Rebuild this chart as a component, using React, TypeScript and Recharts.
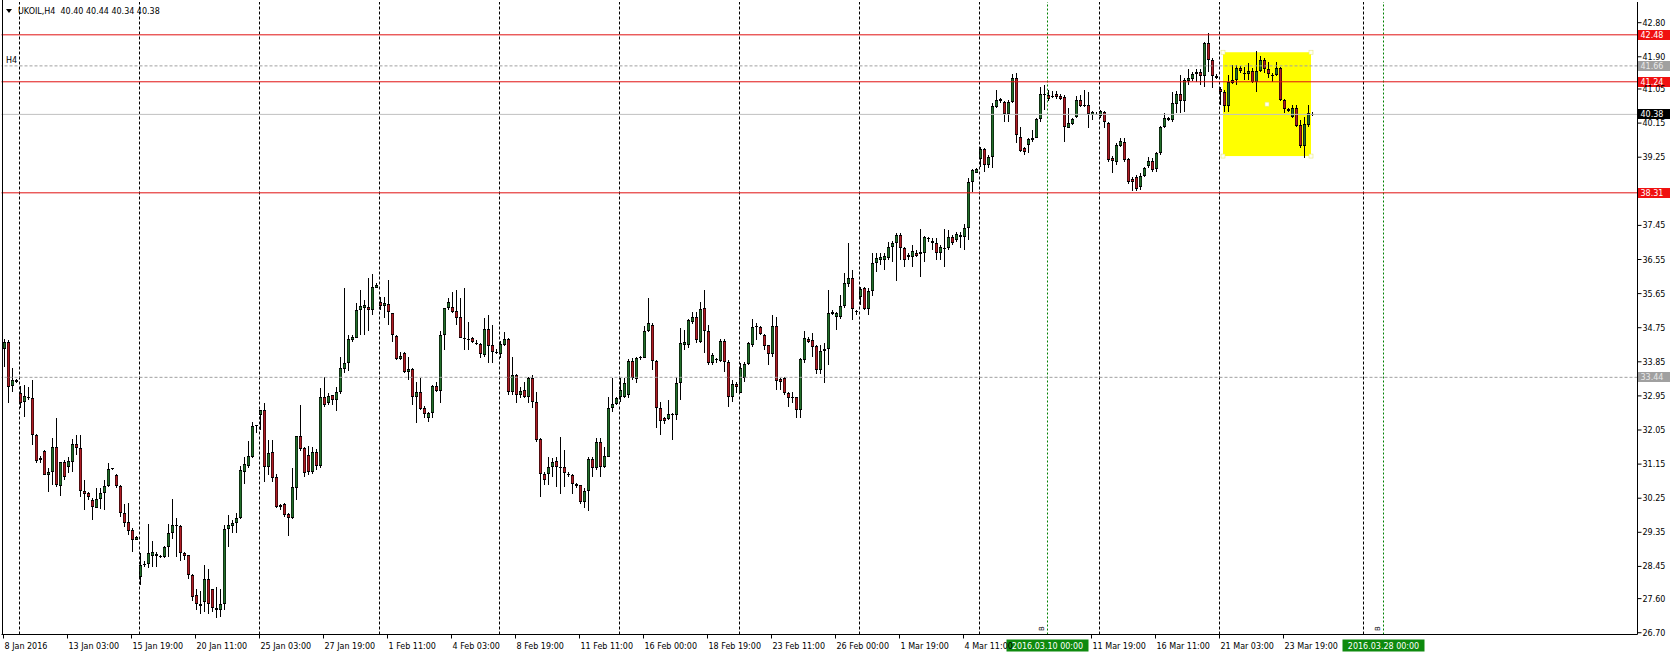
import React from "react";
import { ComposedChart, Bar, XAxis, YAxis, ReferenceLine, ReferenceArea } from "recharts";

const FONT = "'DejaVu Sans', Tahoma, sans-serif";

// ---- candle data (H4 bars, index 0 = 8 Jan 2016) ----
const opens = [
  34.20, 34.36, 33.21, 33.38, 33.02, 32.80, 32.92, 32.89, 31.92, 31.31,
  31.50, 30.85, 30.95, 31.61, 30.58, 31.20, 31.08, 31.21, 31.68, 31.57,
  30.44, 30.38, 30.20, 29.98, 30.22, 30.38, 30.57, 31.05, 30.86, 30.57,
  29.85, 29.63, 29.41, 29.16, 28.18, 28.50, 28.51, 28.72, 28.78, 28.73,
  28.71, 28.95, 29.32, 29.53, 29.52, 28.81, 28.75, 28.22, 27.70, 27.45,
  27.50, 28.13, 27.85, 27.35, 27.30, 27.45, 29.43, 29.52, 29.59, 29.72,
  30.95, 31.10, 31.35, 32.17, 32.45, 32.58, 31.08, 31.46, 30.82, 30.03,
  30.10, 29.83, 29.72, 30.51, 31.89, 31.58, 31.40, 30.95, 31.48, 31.11,
  32.91, 32.77, 32.97, 32.85, 33.06, 33.66, 33.83, 34.43, 34.49, 35.22,
  35.26, 35.30, 35.22, 35.81, 35.44, 35.33, 35.37, 35.13, 34.54, 33.92,
  34.07, 33.57, 33.66, 32.93, 33.06, 32.62, 32.36, 32.49, 33.21, 33.08,
  34.56, 35.26, 35.30, 35.19, 35.02, 34.48, 34.45, 34.49, 34.35, 34.31,
  34.03, 34.72, 34.29, 34.11, 34.05, 34.29, 34.44, 33.06, 33.50, 32.97,
  33.10, 32.93, 33.41, 32.80, 31.81, 30.88, 30.88, 31.07, 31.22, 31.08,
  31.08, 30.90, 30.86, 30.62, 30.60, 30.16, 30.44, 31.29, 31.04, 31.74,
  31.08, 31.35, 32.62, 32.73, 32.93, 32.93, 32.97, 33.87, 33.40, 33.94,
  33.96, 34.66, 34.82, 33.87, 32.62, 32.36, 32.33, 32.45, 32.45, 33.30,
  34.29, 34.29, 34.91, 35.02, 34.38, 35.26, 34.66, 33.81, 33.92, 33.88,
  34.40, 33.85, 32.91, 33.26, 33.02, 33.42, 33.79, 34.29, 34.78, 34.78,
  34.56, 34.29, 34.06, 34.80, 33.39, 33.42, 33.02, 32.93, 32.91, 32.58,
  33.90, 34.44, 34.43, 34.27, 33.63, 34.14, 34.18, 35.11, 35.04, 35.04,
  35.31, 35.90, 36.05, 35.18, 35.55, 35.80, 35.24, 35.73, 36.45, 36.55,
  36.54, 36.58, 36.87, 36.98, 37.20, 36.85, 36.62, 36.62, 36.73, 36.69,
  36.73, 37.11, 37.05, 36.99, 36.73, 36.85, 36.85, 37.15, 37.07, 37.14,
  37.15, 37.37, 38.60, 38.84, 39.19, 39.46, 39.04, 39.26, 40.58, 40.72,
  40.70, 40.38, 40.70, 41.33, 39.79, 39.48, 39.57, 39.70, 39.76, 40.25,
  40.89, 40.89, 40.86, 40.91, 40.87, 40.85, 40.03, 40.13, 40.32, 40.76,
  40.63, 40.63, 40.36, 40.40, 40.35, 40.43, 40.14, 39.24, 39.13, 39.55,
  39.66, 39.20, 38.67, 38.74, 38.47, 38.76, 39.03, 39.15, 38.94, 39.35,
  40.05, 40.28, 40.23, 40.65, 40.91, 40.72, 41.27, 41.31, 41.44, 41.51,
  41.38, 42.26, 41.82, 41.40, 41.05, 40.98, 40.61, 41.20, 41.29, 41.61,
  41.47, 41.44, 41.52, 41.23, 41.52, 41.82, 41.58, 41.43, 41.42, 41.60,
  40.76, 40.51, 40.32, 40.56, 40.10, 39.55, 40.10, 40.40,
];
const highs = [
  34.45, 34.43, 33.68, 33.40, 33.21, 33.24, 33.19, 33.37, 31.95, 31.36,
  31.53, 31.04, 31.85, 32.36, 31.21, 31.26, 31.35, 31.80, 31.92, 31.92,
  30.73, 30.42, 30.25, 30.51, 30.51, 30.73, 31.17, 31.06, 30.90, 30.60,
  30.10, 30.12, 29.46, 29.25, 28.80, 28.60, 29.57, 29.13, 28.82, 28.76,
  28.99, 29.57, 30.22, 29.72, 29.54, 28.84, 28.76, 28.25, 27.85, 27.80,
  28.49, 28.37, 27.86, 27.90, 27.86, 29.53, 29.80, 29.68, 29.85, 31.11,
  31.35, 31.76, 32.27, 32.19, 32.58, 32.75, 31.79, 31.79, 30.90, 30.10,
  30.12, 29.85, 31.04, 31.89, 32.71, 31.60, 31.62, 31.60, 31.55, 33.15,
  33.46, 33.02, 32.97, 33.19, 33.98, 35.81, 34.56, 34.56, 35.39, 35.75,
  35.48, 36.07, 36.16, 35.92, 35.57, 35.57, 36.01, 35.13, 34.56, 34.12,
  34.12, 33.98, 33.68, 33.33, 33.41, 32.69, 32.53, 33.24, 33.33, 34.65,
  35.26, 35.53, 35.70, 35.75, 35.53, 35.79, 34.91, 34.51, 34.42, 34.34,
  35.00, 35.09, 34.82, 34.18, 34.40, 34.64, 34.47, 33.98, 33.54, 33.19,
  33.33, 33.45, 33.50, 33.06, 31.83, 30.95, 31.34, 31.30, 31.34, 31.87,
  31.52, 30.95, 30.90, 30.65, 30.60, 30.51, 31.35, 31.35, 31.83, 31.83,
  31.61, 32.93, 33.43, 32.93, 33.41, 33.41, 33.92, 33.94, 33.98, 34.01,
  34.80, 35.54, 34.87, 33.90, 32.80, 32.40, 32.84, 32.50, 33.46, 34.73,
  34.69, 34.99, 35.17, 35.17, 35.44, 35.75, 34.82, 34.07, 33.94, 34.44,
  34.44, 33.90, 33.37, 33.33, 33.81, 33.85, 34.38, 34.99, 34.88, 34.80,
  34.58, 34.29, 35.08, 35.04, 33.42, 33.46, 33.06, 33.06, 32.93, 33.94,
  34.65, 34.51, 34.60, 34.29, 34.29, 34.34, 35.75, 35.23, 35.17, 35.61,
  36.19, 36.99, 36.27, 35.22, 35.83, 35.83, 35.79, 36.73, 36.71, 36.71,
  36.71, 37.02, 37.05, 37.24, 37.24, 36.89, 36.71, 36.93, 36.80, 37.35,
  37.17, 37.15, 37.11, 37.11, 36.93, 37.35, 37.33, 37.20, 37.28, 37.28,
  37.49, 38.69, 38.93, 38.96, 39.51, 39.48, 39.31, 40.67, 41.02, 40.81,
  40.72, 40.76, 41.44, 41.46, 40.05, 39.53, 39.75, 39.97, 40.28, 41.11,
  41.15, 41.02, 40.99, 40.99, 40.93, 40.89, 40.56, 40.28, 40.87, 40.89,
  41.02, 40.98, 40.47, 40.43, 40.50, 40.47, 40.19, 39.27, 39.62, 39.75,
  39.75, 39.24, 38.74, 38.78, 38.82, 39.00, 39.26, 39.24, 39.38, 40.08,
  40.41, 40.32, 40.98, 41.00, 41.42, 41.35, 41.59, 41.51, 41.59, 41.59,
  42.30, 42.54, 41.88, 41.44, 41.11, 41.02, 41.42, 41.68, 41.68, 41.66,
  41.64, 41.73, 41.61, 42.05, 41.93, 41.86, 41.77, 41.46, 41.77, 41.64,
  40.79, 40.54, 40.63, 40.63, 40.23, 40.32, 40.63, 40.44,
];
const lows = [
  33.72, 32.77, 33.04, 33.30, 32.62, 32.40, 32.85, 31.66, 31.19, 31.17,
  30.85, 30.42, 30.60, 30.55, 30.31, 30.73, 30.91, 30.95, 31.39, 30.29,
  29.94, 30.20, 29.68, 29.98, 29.96, 29.94, 30.55, 30.99, 30.52, 29.76,
  29.50, 29.28, 28.82, 29.14, 27.96, 28.44, 28.40, 28.44, 28.44, 28.66,
  28.68, 28.71, 29.17, 28.71, 28.58, 28.62, 28.13, 27.55, 27.30, 27.20,
  27.25, 27.20, 27.25, 27.10, 27.12, 27.30, 28.97, 29.32, 29.32, 29.70,
  30.62, 31.05, 31.30, 31.96, 32.05, 30.69, 30.86, 30.69, 29.98, 29.95,
  29.76, 29.26, 29.70, 30.20, 31.50, 30.80, 30.85, 30.90, 31.00, 31.05,
  32.66, 32.71, 32.70, 32.55, 33.00, 33.55, 33.60, 34.36, 34.47, 34.56,
  34.56, 34.65, 35.09, 35.79, 35.22, 35.00, 34.82, 34.38, 33.90, 33.90,
  33.55, 33.37, 32.71, 32.23, 32.58, 32.36, 32.27, 32.36, 33.06, 32.75,
  34.16, 35.22, 35.13, 34.82, 34.47, 34.16, 34.16, 34.34, 34.29, 33.94,
  33.99, 33.81, 33.81, 34.05, 33.94, 34.27, 32.97, 32.97, 32.75, 32.89,
  32.89, 32.75, 32.62, 31.74, 30.29, 30.60, 30.60, 30.82, 30.55, 30.35,
  30.55, 30.82, 30.35, 30.51, 30.11, 30.00, 29.90, 30.82, 30.99, 30.82,
  31.04, 31.35, 32.52, 32.71, 32.80, 32.89, 32.89, 33.37, 33.28, 33.90,
  33.94, 34.64, 33.63, 32.11, 31.92, 32.22, 32.31, 31.79, 32.31, 32.84,
  34.16, 34.21, 34.86, 34.34, 34.34, 34.07, 33.77, 33.77, 33.81, 33.85,
  33.59, 32.67, 32.80, 33.02, 33.02, 33.33, 33.77, 34.25, 34.43, 34.56,
  34.16, 33.77, 33.99, 33.10, 33.10, 32.97, 32.67, 32.75, 32.36, 32.36,
  33.81, 34.34, 33.99, 33.54, 33.54, 33.28, 33.77, 35.09, 34.69, 34.99,
  35.26, 35.83, 34.95, 35.09, 35.35, 35.22, 35.09, 35.59, 36.23, 36.41,
  36.27, 36.54, 36.49, 35.97, 36.54, 36.36, 36.54, 36.36, 36.62, 36.09,
  36.49, 37.02, 36.80, 36.54, 36.54, 36.34, 36.80, 36.93, 37.02, 36.85,
  36.80, 37.06, 38.34, 38.82, 39.00, 38.87, 38.96, 38.96, 40.54, 40.67,
  40.19, 40.19, 40.67, 39.62, 39.40, 39.31, 39.35, 39.66, 39.75, 40.19,
  40.50, 40.73, 40.80, 40.79, 40.76, 39.66, 40.01, 40.10, 40.29, 40.58,
  40.58, 40.01, 40.23, 40.36, 40.29, 40.01, 39.13, 38.82, 39.04, 39.53,
  39.13, 38.53, 38.36, 38.36, 38.38, 38.74, 38.96, 38.87, 38.87, 39.31,
  40.01, 40.21, 40.19, 40.41, 40.41, 40.43, 41.15, 41.26, 41.24, 41.15,
  41.11, 41.51, 41.07, 41.31, 40.63, 40.43, 40.43, 41.18, 41.15, 41.46,
  41.29, 41.29, 41.22, 40.98, 41.51, 41.46, 41.33, 41.24, 41.38, 40.73,
  40.41, 40.45, 40.29, 40.06, 39.50, 39.22, 40.06, 40.34,
];
const closes = [
  34.36, 33.19, 33.37, 33.33, 32.77, 32.95, 32.90, 31.92, 31.24, 31.25,
  30.86, 30.95, 31.61, 30.60, 31.20, 30.80, 31.23, 31.68, 31.57, 30.45,
  30.35, 30.27, 30.01, 30.22, 30.40, 30.57, 31.01, 31.02, 30.56, 29.85,
  29.60, 29.39, 29.15, 29.23, 28.50, 28.52, 28.80, 28.82, 28.72, 28.72,
  28.97, 29.32, 29.53, 29.52, 28.81, 28.72, 28.22, 27.65, 27.45, 27.40,
  28.13, 27.45, 27.35, 27.30, 27.45, 29.43, 29.54, 29.60, 29.74, 30.99,
  31.15, 31.36, 32.16, 32.16, 32.58, 31.08, 31.43, 30.78, 30.03, 30.08,
  29.81, 29.72, 30.54, 31.89, 31.54, 30.91, 30.95, 31.48, 31.11, 32.91,
  32.71, 32.96, 32.84, 33.06, 33.68, 33.83, 34.45, 34.51, 35.22, 35.33,
  35.35, 35.22, 35.83, 35.88, 35.31, 35.39, 35.16, 34.56, 33.92, 34.01,
  33.57, 33.66, 32.93, 33.06, 32.60, 32.46, 32.49, 33.21, 33.08, 34.56,
  35.26, 35.44, 35.16, 35.00, 34.49, 34.47, 34.44, 34.36, 34.34, 34.05,
  34.72, 34.28, 34.10, 34.12, 34.31, 34.44, 33.06, 33.50, 32.97, 33.08,
  32.93, 33.41, 32.80, 31.79, 30.88, 30.73, 31.08, 31.20, 31.08, 31.07,
  30.91, 30.89, 30.62, 30.58, 30.14, 30.44, 31.29, 31.04, 31.73, 31.08,
  31.37, 32.62, 32.73, 32.89, 33.11, 33.28, 33.87, 33.41, 33.94, 33.98,
  34.66, 34.87, 33.87, 32.62, 32.29, 32.30, 32.47, 32.48, 33.30, 34.34,
  34.38, 34.95, 35.02, 34.43, 35.24, 34.65, 33.81, 34.03, 33.90, 34.40,
  33.84, 32.91, 33.26, 33.19, 33.68, 33.79, 34.34, 34.78, 34.79, 34.58,
  34.27, 34.06, 34.80, 33.35, 33.33, 33.02, 32.89, 32.91, 32.58, 33.92,
  34.47, 34.38, 34.25, 33.63, 34.14, 34.18, 35.13, 35.17, 35.15, 35.32,
  35.92, 36.05, 35.24, 35.16, 35.76, 35.24, 35.73, 36.47, 36.58, 36.62,
  36.64, 36.89, 36.99, 37.20, 36.85, 36.55, 36.67, 36.78, 36.64, 36.74,
  37.14, 37.09, 36.98, 36.73, 36.89, 36.86, 37.15, 36.98, 37.22, 37.20,
  37.37, 38.60, 38.90, 38.93, 39.46, 39.04, 39.26, 40.60, 40.76, 40.79,
  40.38, 40.70, 41.33, 39.84, 39.41, 39.40, 39.72, 39.76, 40.25, 40.91,
  40.93, 40.79, 40.87, 40.85, 40.79, 40.05, 40.14, 40.25, 40.76, 40.61,
  40.62, 40.38, 40.43, 40.40, 40.47, 40.17, 39.18, 39.15, 39.57, 39.68,
  39.18, 38.59, 38.59, 38.41, 38.76, 38.96, 39.15, 38.91, 39.35, 40.05,
  40.28, 40.23, 40.67, 40.91, 40.72, 41.29, 41.33, 41.44, 41.51, 41.38,
  42.26, 41.82, 41.38, 41.33, 40.96, 40.61, 41.23, 41.29, 41.61, 41.52,
  41.46, 41.52, 41.24, 41.52, 41.82, 41.58, 41.44, 41.42, 41.60, 40.76,
  40.52, 40.47, 40.56, 40.08, 39.55, 40.12, 40.41, 40.38,
];

// ---- axes / annotations ----
const SLOT_COUNT = 409; // bars + empty chart shift on the right
const xTickIndex = [0, 16, 32, 48, 64, 80, 96, 112, 128, 144, 160, 176, 192, 208, 224, 240, 272, 288, 304, 320];
const xTickLabels = [
  "8 Jan 2016", "13 Jan 03:00", "15 Jan 19:00", "20 Jan 11:00", "25 Jan 03:00", "27 Jan 19:00",
  "1 Feb 11:00", "4 Feb 03:00", "8 Feb 19:00", "11 Feb 11:00", "16 Feb 00:00", "18 Feb 19:00",
  "23 Feb 11:00", "26 Feb 00:00", "1 Mar 19:00", "4 Mar 11:00", "11 Mar 19:00", "16 Mar 11:00",
  "21 Mar 03:00", "23 Mar 19:00",
];
const yTickValues = [42.80, 41.90, 41.05, 40.15, 39.25, 37.45, 36.55, 35.65, 34.75, 33.85, 32.95, 32.05, 31.15, 30.25, 29.35, 28.45, 27.60, 26.70];
const yDomain = [26.653, 43.346];
const gridIndex = [4, 34, 64, 94, 124, 154, 184, 214, 244, 274, 304, 340];
const vLineIndex = [261, 345];
const vLineLabels = ["2016.03.10 00:00", "2016.03.28 00:00"];
const redLevels = [42.48, 41.24, 38.31];
const grayLevels = [41.66, 33.44];
const bidLevel = 40.38;
const boxX = [305, 327];
const boxY = [39.28, 42.02];
const headerText = "UKOIL,H4  40.40 40.44 40.34 40.38";

const BULL = "#22702A";
const BEAR = "#B01C24";

const rows = Array.from({ length: SLOT_COUNT }, (_, i) =>
  i < opens.length
    ? { i, o: opens[i], h: highs[i], l: lows[i], c: closes[i], range: [lows[i], highs[i]] }
    : { i, range: null }
);

function Candle(props: any) {
  const { x, y, width, height, payload } = props;
  if (!payload || payload.o == null) return null;
  const { o, h, l, c } = payload;
  let top = y;
  let hh = height;
  if (hh < 0) {
    top = y + hh;
    hh = -hh;
  }
  const k = h - l > 0 ? hh / (h - l) : 0;
  const col = Math.floor(x + width / 2);
  const wTop = Math.round(top);
  const wBot = Math.max(wTop + 1, Math.round(top + hh));
  const yO = top + (h - o) * k;
  const yC = top + (h - c) * k;
  let bTop = Math.round(Math.min(yO, yC));
  let bBot = Math.round(Math.max(yO, yC));
  if (bBot - bTop < 1) bBot = bTop + 1;
  const up = c >= o;
  const bh = bBot - bTop;
  if (bh < 3) {
    return (
      <g>
        <rect x={col} y={wTop} width={1} height={wBot - wTop} fill="#000" />
        <rect x={col - 1} y={bTop} width={3} height={bh} fill="#000" />
      </g>
    );
  }
  return (
    <g>
      <rect x={col} y={wTop} width={1} height={wBot - wTop} fill="#000" />
      <rect x={col - 1} y={bTop} width={3} height={bh} fill={up ? BULL : BEAR} />
      <rect x={col - 1} y={bTop} width={1} height={bh} fill="#000" fillOpacity={0.55} />
      <rect x={col + 1} y={bTop} width={1} height={bh} fill="#000" fillOpacity={0.55} />
      <rect x={col - 1} y={bTop} width={3} height={1} fill="#000" />
      <rect x={col - 1} y={bBot - 1} width={3} height={1} fill="#000" />
    </g>
  );
}

function XTick(props: any) {
  const { x, y, payload } = props;
  const idx = xTickIndex.indexOf(Number(payload.value));
  if (idx < 0) return null;
  return (
    <text x={x + 1} y={y + 8} fontSize={8} fontFamily={FONT} fill="#000" textAnchor="start">
      {xTickLabels[idx]}
    </text>
  );
}

function YTick(props: any) {
  const { x, y, payload } = props;
  return (
    <text x={x} y={y + 3} fontSize={8} fontFamily={FONT} fill="#000" textAnchor="start">
      {Number(payload.value).toFixed(2)}
    </text>
  );
}

function PriceTag(props: any) {
  const { viewBox, text, bg, fg } = props;
  if (!viewBox) return null;
  const xr = viewBox.x + viewBox.width;
  const y = viewBox.y;
  return (
    <g>
      <rect x={xr + 0.5} y={Math.round(y) - 5} width={32} height={10} fill={bg} />
      <text x={xr + 3} y={Math.round(y) + 3} fontSize={8} fontFamily={FONT} fill={fg}>
        {text}
      </text>
    </g>
  );
}

function DateTag(props: any) {
  const { viewBox, text } = props;
  if (!viewBox) return null;
  const cx = viewBox.x;
  const bottom = viewBox.y + viewBox.height;
  return (
    <g>
      <text
        x={0}
        y={0}
        fontSize={7}
        fontFamily={FONT}
        fill="#000"
        transform={`translate(${cx - 4}, ${bottom - 6}) rotate(-90)`}
        textAnchor="middle"
      >
        B
      </text>
      <rect x={cx - 41} y={bottom + 5} width={82} height={12} fill="#0E8A0E" />
      <text x={cx} y={bottom + 14} fontSize={8} fontFamily={FONT} fill="#fff" textAnchor="middle">
        {text}
      </text>
    </g>
  );
}

function BoxShape(props: any) {
  const { x, y, width, height } = props;
  const x0 = x + 1.5;
  const x1 = x + width - 2.5;
  const handles = [
    [x0, y],
    [x1, y],
    [x0, y + height],
    [x1, y + height],
    [(x0 + x1) / 2, y + height / 2],
  ];
  return (
    <g>
      <rect x={x0} y={y} width={x1 - x0} height={height} fill="#FFFF00" />
      {handles.map(([hx, hy], n) => (
        <rect key={n} x={hx - 2} y={hy - 2} width={4} height={4} fill="#FFFFF0" stroke="#E8E880" strokeWidth={0.6} />
      ))}
    </g>
  );
}

export default function App() {
  return (
    <div style={{ position: "absolute", left: 0, top: 0, width: 1676, height: 657, background: "#fff", overflow: "hidden" }}>
      <ComposedChart width={1676} height={657} data={rows} margin={{ top: 2, right: 0.5, bottom: 0.5, left: 1.5 }}>
        <XAxis
          dataKey="i"
          type="category"
          height={22}
          ticks={xTickIndex}
          interval={0}
          tickSize={4}
          tickMargin={2}
          tick={(p: any) => <XTick {...p} />}
          axisLine={{ stroke: "#000" }}
          tickLine={{ stroke: "#000" }}
        />
        <YAxis
          orientation="right"
          type="number"
          domain={yDomain}
          allowDataOverflow
          ticks={yTickValues}
          interval={0}
          width={38}
          tickSize={4}
          tickMargin={1}
          tick={(p: any) => <YTick {...p} />}
          axisLine={{ stroke: "#000" }}
          tickLine={{ stroke: "#000" }}
        />
        <ReferenceArea x1={boxX[0]} x2={boxX[1]} y1={boxY[0]} y2={boxY[1]} shape={(p: any) => <BoxShape {...p} />} />
        {gridIndex.map((k) => (
          <ReferenceLine key={"g" + k} x={k} stroke="#000" strokeDasharray="3 2" />
        ))}
        {vLineIndex.map((k, n) => (
          <ReferenceLine key={"v" + k} x={k} stroke="#008000" strokeDasharray="2 2" label={<DateTag text={vLineLabels[n]} />} />
        ))}
        {grayLevels.map((v) => (
          <ReferenceLine key={"gl" + v} y={v} stroke="#A0A0A0" strokeDasharray="3 2" label={<PriceTag text={v.toFixed(2)} bg="#A0A0A0" fg="#E8E8E8" />} />
        ))}
        <ReferenceLine y={bidLevel} stroke="#C0C0C0" label={<PriceTag text={bidLevel.toFixed(2)} bg="#000" fg="#fff" />} />
        {redLevels.map((v) => (
          <ReferenceLine key={"r" + v} y={v} stroke="#E01010" label={<PriceTag text={v.toFixed(2)} bg="#F01010" fg="#fff" />} />
        ))}
        <Bar dataKey="range" barSize={3} isAnimationActive={false} shape={(p: any) => <Candle {...p} />} />
      </ComposedChart>
      <div style={{ position: "absolute", left: 2, top: 0, width: 1, height: 635, background: "#000" }} />
      <svg width={1676} height={657} style={{ position: "absolute", left: 0, top: 0, pointerEvents: "none" }}>
        <polygon points="6,9 12,9 9,13" fill="#000" />
        <text x={18} y={14} fontSize={8} fontFamily={FONT} fill="#000" style={{ whiteSpace: "pre" }} xmlSpace="preserve">
          {headerText}
        </text>
        <text x={6} y={63} fontSize={8} fontFamily={FONT} fill="#000">
          H4
        </text>
      </svg>
    </div>
  );
}
